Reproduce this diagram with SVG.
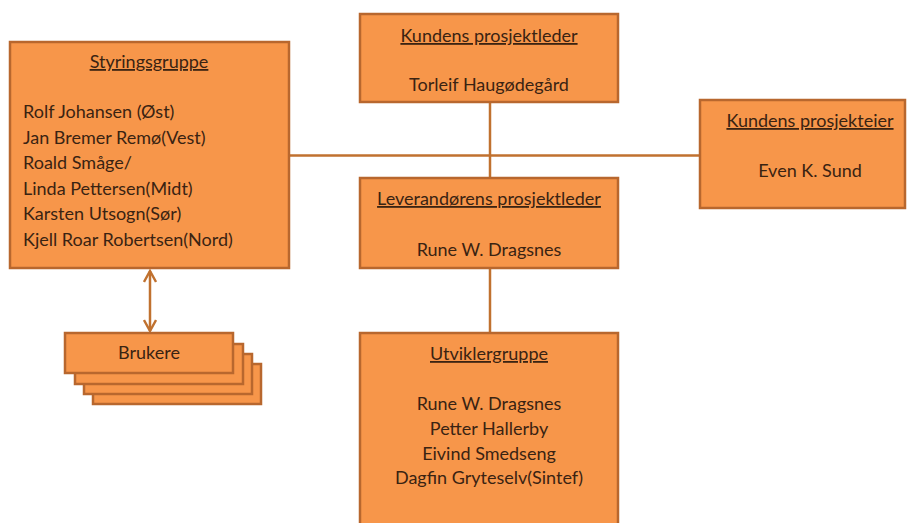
<svg xmlns="http://www.w3.org/2000/svg" width="909" height="523" viewBox="0 0 909 523">
  <defs>
    <style>
      .box { fill: #F7964A; stroke: #B8672E; stroke-width: 2.5; }
      .line { stroke: #C0712F; stroke-width: 2.5; fill: none; }
      text { font-family: "Lato", "Liberation Sans", sans-serif; font-size: 18px; fill: #3A2312; }
      .c { text-anchor: middle; }
      .u { text-decoration: underline; }
    </style>
    <marker id="head" viewBox="0 0 14 14" refX="12" refY="7" markerWidth="14" markerHeight="14" markerUnits="userSpaceOnUse" orient="auto-start-reverse">
      <path d="M1,1 L12,7 L1,13" fill="none" stroke="#C0712F" stroke-width="2.4"/>
    </marker>
  </defs>
  <rect width="909" height="523" fill="#FFFFFF"/>

  <!-- connectors -->
  <g id="connectors">
    <line class="line" x1="289" y1="155.5" x2="700" y2="155.5"/>
    <line class="line" x1="490" y1="102" x2="490" y2="178"/>
    <line class="line" x1="490" y1="268" x2="490" y2="333"/>
    <line class="line" x1="150" y1="271" x2="150" y2="331" marker-start="url(#head)" marker-end="url(#head)"/>
  </g>

  <!-- steering group -->
  <g id="styringsgruppe">
    <rect class="box" x="10" y="42" width="279" height="226"/>
    <text class="c u" x="149" y="68">Styringsgruppe</text>
    <text x="23" y="118">Rolf Johansen (Øst)</text>
    <text x="23" y="143.5">Jan Bremer Remø(Vest)</text>
    <text x="23" y="169">Roald Småge/</text>
    <text x="23" y="194.5">Linda Pettersen(Midt)</text>
    <text x="23" y="220">Karsten Utsogn(Sør)</text>
    <text x="23" y="245.5">Kjell Roar Robertsen(Nord)</text>
  </g>

  <!-- users (stacked) -->
  <g id="brukere">
    <rect class="box" x="93" y="364" width="168" height="40"/>
    <rect class="box" x="84" y="354" width="168" height="40"/>
    <rect class="box" x="75" y="344" width="168" height="40"/>
    <rect class="box" x="65" y="333" width="168" height="40"/>
    <text class="c" x="149" y="359">Brukere</text>
  </g>

  <!-- customer project manager -->
  <g id="kundens-prosjektleder">
    <rect class="box" x="360" y="14" width="258" height="88"/>
    <text class="c u" x="489" y="42">Kundens prosjektleder</text>
    <text class="c" x="489" y="91">Torleif Haugødegård</text>
  </g>

  <!-- supplier project manager -->
  <g id="leverandorens-prosjektleder">
    <rect class="box" x="360" y="178" width="258" height="90"/>
    <text class="c u" x="489" y="205">Leverandørens prosjektleder</text>
    <text class="c" x="489" y="256">Rune W. Dragsnes</text>
  </g>

  <!-- customer project owner -->
  <g id="kundens-prosjekteier">
    <rect class="box" x="700" y="100" width="205" height="108"/>
    <text class="c u" x="810" y="127">Kundens prosjekteier</text>
    <text class="c" x="810" y="177">Even K. Sund</text>
  </g>

  <!-- development group -->
  <g id="utviklergruppe">
    <rect class="box" x="360" y="333" width="258" height="200"/>
    <text class="c u" x="489" y="360">Utviklergruppe</text>
    <text class="c" x="489" y="410">Rune W. Dragsnes</text>
    <text class="c" x="489" y="435">Petter Hallerby</text>
    <text class="c" x="489" y="459.5">Eivind Smedseng</text>
    <text class="c" x="489" y="484">Dagfin Gryteselv(Sintef)</text>
  </g>
</svg>
